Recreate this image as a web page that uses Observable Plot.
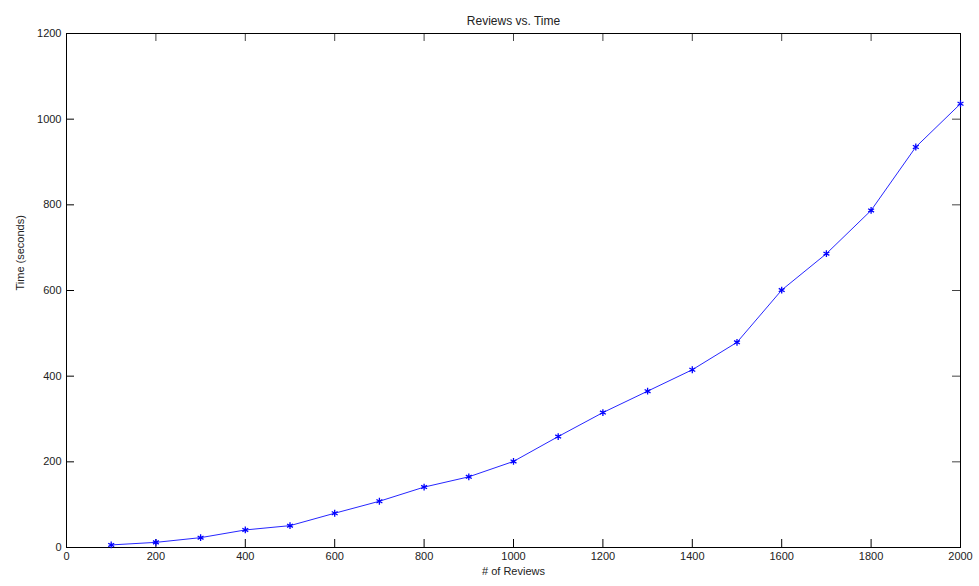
<!DOCTYPE html>
<html>
<head>
<meta charset="utf-8">
<script src="https://cdn.jsdelivr.net/npm/d3@7"></script>
<script src="https://cdn.jsdelivr.net/npm/@observablehq/plot@0.6"></script>
<style>
  html, body { margin: 0; padding: 0; background: #fff; }
  svg { display: block; }
</style>
</head>
<body>
<div id="chart"></div>
<script>
const reviews = [100, 200, 300, 400, 500, 600, 700, 800, 900, 1000, 1100, 1200, 1300, 1400, 1500, 1600, 1700, 1800, 1900, 2000];
const seconds = [6, 12, 23, 41, 51, 80, 108, 141, 165, 201, 259, 315, 365, 415, 479, 601, 686, 787, 935, 1036];
const xTicks = [0, 200, 400, 600, 800, 1000, 1200, 1400, 1600, 1800, 2000];
const yTicks = [0, 200, 400, 600, 800, 1000, 1200];
const title = "Reviews vs. Time";
const xLabel = "# of Reviews";
const yLabel = "Time (seconds)";

const data = reviews.map((r, i) => ({reviews: r, seconds: seconds[i]}));

const W = 979, H = 586;
const mL = 66, mR = 19, mT = 33, mB = 39;
const pw = W - mL - mR, ph = H - mT - mB;
const tl = 8;
const fmt = d => String(d);

const chart = Plot.plot({
  width: W,
  height: H,
  marginLeft: mL,
  marginRight: mR,
  marginTop: mT,
  marginBottom: mB,
  style: {fontFamily: "'Liberation Sans', Arial, sans-serif", fontSize: "11px", color: "#222", background: "#fff"},
  x: {domain: [0, 2000]},
  y: {domain: [0, 1200]},
  marks: [
    Plot.axisX(xTicks, {tickSize: 0, tickPadding: 5, label: null, fontSize: 11, tickFormat: fmt}),
    Plot.axisY(yTicks, {tickSize: 0, tickPadding: 5, label: null, fontSize: 11, tickFormat: fmt}),
    Plot.tickX(xTicks, {x: d => d, insetTop: ph - tl, stroke: "#000"}),
    Plot.tickX(xTicks, {x: d => d, insetBottom: ph - tl, stroke: "#444"}),
    Plot.tickY(yTicks, {y: d => d, insetRight: pw - tl, stroke: "#000"}),
    Plot.tickY(yTicks, {y: d => d, insetLeft: pw - tl, stroke: "#444"}),
    Plot.frame({stroke: "#000", strokeWidth: 1}),
    Plot.line(data, {x: "reviews", y: "seconds", stroke: "#0000ff", strokeWidth: 1, strokeOpacity: 0.85}),
    Plot.dot(data, {x: "reviews", y: "seconds", symbol: "asterisk", r: 3.2, stroke: "#0000ff", strokeWidth: 1.3}),
    Plot.text([title], {frameAnchor: "top", dy: -17, text: d => d, fontSize: 12, fill: "#222"}),
    Plot.text([xLabel], {frameAnchor: "bottom", dy: 27, text: d => d, fontSize: 11, fill: "#222"}),
    Plot.text([yLabel], {frameAnchor: "left", dx: -46, rotate: -90, text: d => d, fontSize: 11, fill: "#222"})
  ]
});
document.getElementById("chart").appendChild(chart);
</script>
</body>
</html>
